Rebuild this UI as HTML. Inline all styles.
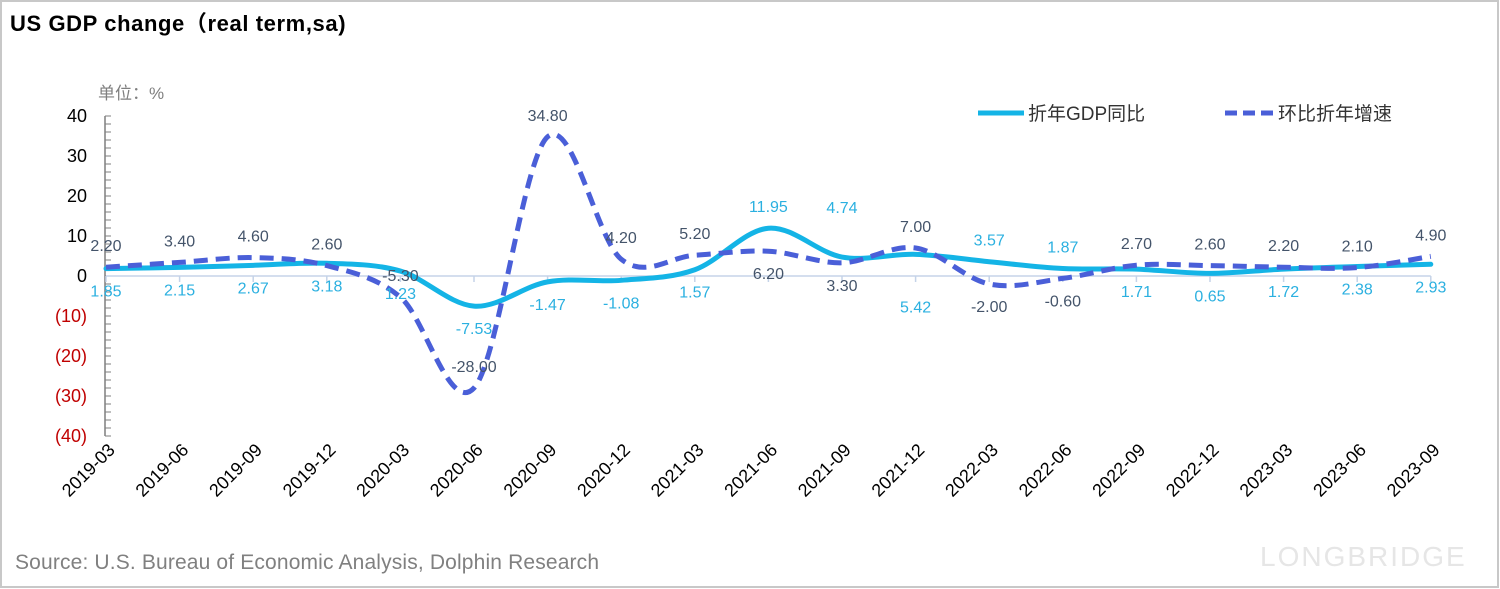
<!DOCTYPE html>
<html><head><meta charset="utf-8">
<style>
body{margin:0;background:#fff;}
#wrap{position:relative;width:1500px;height:589px;overflow:hidden;background:#fff;}
svg{position:absolute;left:0;top:0;}
</style></head>
<body>
<div id="wrap">
<svg id="chart" width="1500" height="589" xmlns="http://www.w3.org/2000/svg">
<rect x="1" y="1" width="1497" height="586" fill="none" stroke="#c8c8c8" stroke-width="2"/>
<text x="10" y="31" font-family="Liberation Sans, Noto Sans CJK SC, sans-serif" font-size="22" font-weight="bold" fill="#000" letter-spacing="0.6">US GDP change（real term,sa)</text>
<text x="98" y="99" font-family="Liberation Sans, Noto Sans CJK SC, sans-serif" font-size="17" fill="#7f7f7f">单位：%</text>
<text x="15" y="569" font-family="Liberation Sans, sans-serif" font-size="21" fill="#808080" letter-spacing="0.15">Source: U.S. Bureau of Economic Analysis, Dolphin Research</text>
<text x="1260" y="566" font-family="Liberation Sans, sans-serif" font-size="28" fill="#e6e6e6" letter-spacing="2">LONGBRIDGE</text>
<g id="legend">
<line x1="978" y1="113" x2="1024" y2="113" stroke="#14b4e6" stroke-width="5"/>
<text x="1028" y="120" font-family="Liberation Sans, Noto Sans CJK SC, sans-serif" font-size="19" fill="#333">折年GDP同比</text>
<line x1="1225" y1="113" x2="1274" y2="113" stroke="#4a5fd8" stroke-width="5" stroke-dasharray="12,6"/>
<text x="1278" y="120" font-family="Liberation Sans, Noto Sans CJK SC, sans-serif" font-size="19" fill="#333">环比折年增速</text>
</g>
</svg>
</div>
<script>
const categories=["2019-03","2019-06","2019-09","2019-12","2020-03","2020-06","2020-09","2020-12","2021-03","2021-06","2021-09","2021-12","2022-03","2022-06","2022-09","2022-12","2023-03","2023-06","2023-09"];
const yoyValues=[1.85,2.15,2.67,3.18,1.23,-7.53,-1.47,-1.08,1.57,11.95,4.74,5.42,3.57,1.87,1.71,0.65,1.72,2.38,2.93];
const qoqValues=[2.20,3.40,4.60,2.60,-5.30,-28.00,34.80,4.20,5.20,6.20,3.30,7.00,-2.00,-0.60,2.70,2.60,2.20,2.10,4.90];
const yTicks=[40,30,20,10,0,-10,-20,-30,-40];
const yTickLabels=["40","30","20","10","0","(10)","(20)","(30)","(40)"];
const yoyLabelPos=["b","b","b","b","b","b","b","b","b","a","a2","b2","a","a","b","b","b","b","b"];
const qoqLabelPos=["a","a","a","a","a","a","a","a","a","b","b","a","b","b","a","a","a","a","a"];

const NS="http://www.w3.org/2000/svg";
const svg=document.getElementById('chart');
const X0=106,XSTEP=73.6,Y0=276,YPX=4;
const xs=i=>X0+i*XSTEP;
const ys=v=>Y0-v*YPX;
function mk(t,a,p){const e=document.createElementNS(NS,t);for(const k in a)e.setAttribute(k,a[k]);(p||svg).appendChild(e);return e;}
const FONT="Liberation Sans, sans-serif";

const ax=mk('g',{});


const yl=mk('line',{x1:X0-1,y1:ys(40),x2:X0-1,y2:ys(-40),stroke:'#7f7f7f','stroke-width':1.5},ax);


for(let v=-40;v<=40;v+=2){
  const t=mk('line',{x1:X0-1,y1:ys(v),x2:X0+5,y2:ys(v),stroke:'#7f7f7f','stroke-width':1},ax);
  
  
}
yTicks.forEach((v,i)=>{
  const t=mk('text',{x:X0-19,y:ys(v)+6,'text-anchor':'end','font-family':FONT,'font-size':18,fill:v<0?'#c00000':'#000'},ax);
  t.textContent=yTickLabels[i];
  
  
});
const xl=mk('line',{x1:X0,y1:Y0,x2:xs(categories.length-1),y2:Y0,stroke:'#c5d3e8','stroke-width':1.5},ax);


categories.forEach((c,i)=>{
  const tk=mk('line',{x1:xs(i),y1:Y0,x2:xs(i),y2:Y0+6,stroke:'#c5d3e8','stroke-width':1.5},ax);
  
  
  const t=mk('text',{x:0,y:0,'text-anchor':'end','font-family':FONT,'font-size':18,fill:'#000',transform:`translate(${xs(i)+10},${451}) rotate(-45)`},ax);
  t.textContent=c;
  
  
});

function smooth(vals){
  const p=vals.map((v,i)=>[xs(i),ys(v)]);
  let d=`M${p[0][0]},${p[0][1]}`;
  for(let i=0;i<p.length-1;i++){
    const p0=p[Math.max(0,i-1)],p1=p[i],p2=p[i+1],p3=p[Math.min(p.length-1,i+2)];
    const c1=[p1[0]+(p2[0]-p0[0])/6,p1[1]+(p2[1]-p0[1])/6];
    const c2=[p2[0]-(p3[0]-p1[0])/6,p2[1]-(p3[1]-p1[1])/6];
    d+=` C${c1[0]},${c1[1]} ${c2[0]},${c2[1]} ${p2[0]},${p2[1]}`;
  }
  return d;
}
const yoyLine=mk('path',{d:smooth(yoyValues),fill:'none',stroke:'#14b4e6','stroke-width':5,'stroke-linecap':'round'});


const qoqLine=mk('path',{d:smooth(qoqValues),fill:'none',stroke:'#4a5fd8','stroke-width':5,'stroke-dasharray':'14,8'});



function labels(vals,pos,color,name){
  vals.forEach((v,i)=>{
    const off={a:-22,b:22,a2:-50,b2:52}[pos[i]];
    const t=mk('text',{x:xs(i),y:ys(v)+off+6,'text-anchor':'middle','font-family':FONT,'font-size':16,fill:color});
    t.textContent=v.toFixed(2);
    
    
  });
}
labels(qoqValues,qoqLabelPos,'#44546a','qoq-value-label');
labels(yoyValues,yoyLabelPos,'#2bb0e0','yoy-value-label');
</script>
</body></html>
